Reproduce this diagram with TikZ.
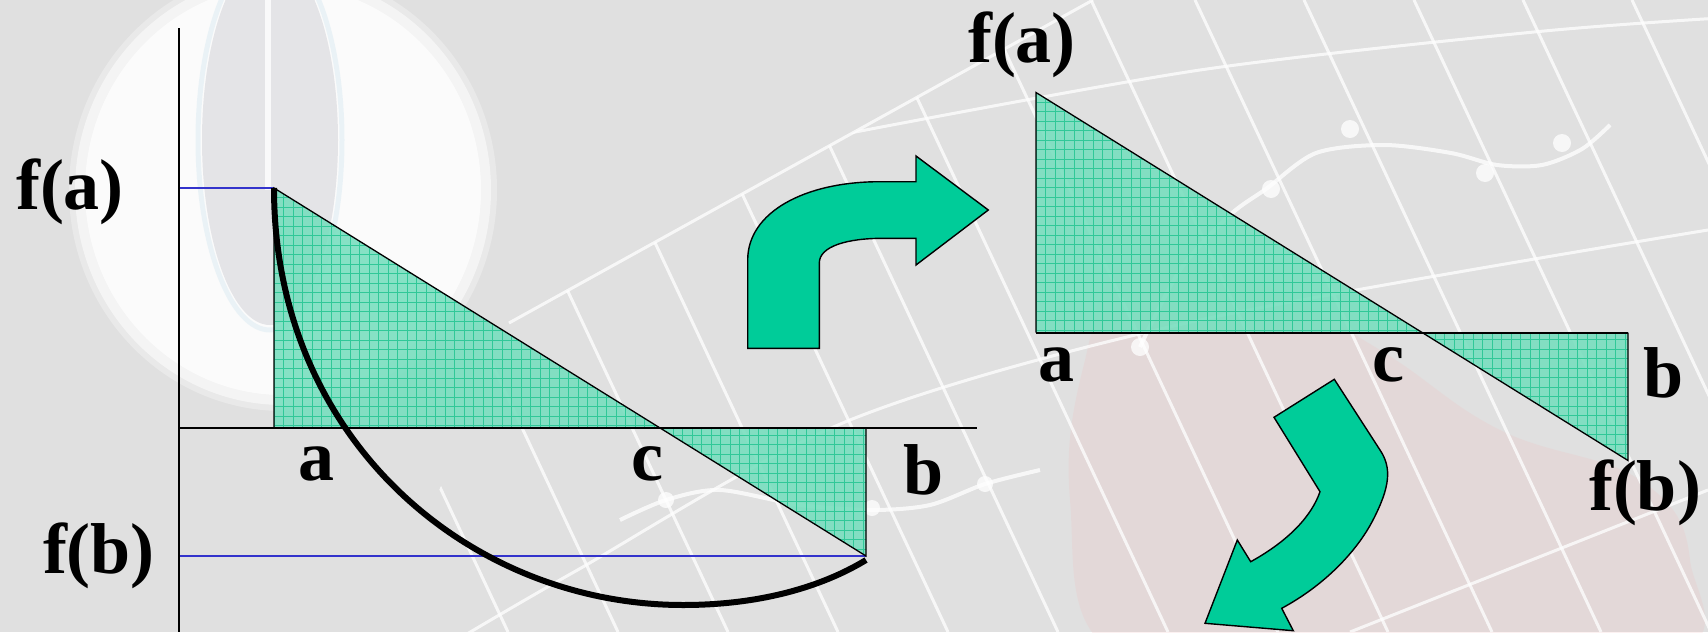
\documentclass[tikz,border=0pt]{standalone}
\usepackage{fontspec}
\setmainfont{Liberation Serif}
\definecolor{bggray}{RGB}{224,224,224}
\definecolor{tealfill}{RGB}{118,222,190}
\definecolor{tealgrid}{RGB}{48,200,152}
\definecolor{arrowgreen}{RGB}{0,204,153}
\definecolor{lineblue}{RGB}{51,51,204}
\definecolor{pinkwm}{RGB}{240,190,190}
\definecolor{bluewm}{RGB}{210,230,240}
\definecolor{innergray}{RGB}{224,224,228}
\begin{document}
\begin{tikzpicture}[x=1pt,y=-1pt,
  lbl/.style={font=\fontsize{72}{80}\selectfont\bfseries, inner sep=0pt, anchor=base},
  hline/.style={draw=lineblue, line width=2.4pt},
  axisline/.style={draw=black, line width=2pt},
  edgeline/.style={draw=black, line width=1.3pt, line join=miter},
  bigarrow/.style={fill=arrowgreen, draw=black, line width=1.4pt, line join=miter},
  wmline/.style={draw=white, line width=3pt, opacity=0.75},
  curveline/.style={draw=black, line width=6pt},
  gridln/.style={draw=tealgrid, line width=0.8pt}
]
\useasboundingbox (0,0) rectangle (1708,632);
\fill[bggray] (0,0) rectangle (1708,632);

% ---------- watermark background ----------
\begin{scope}
  \clip (0,0) rectangle (1708,632);
  % white blob with soft edge
  \fill[white, opacity=0.3] (283,190) ellipse [x radius=214pt, y radius=221pt];
  \fill[white, opacity=0.5] (283,190) ellipse [x radius=208pt, y radius=215pt];
  \fill[white, opacity=0.7] (283,190) ellipse [x radius=198pt, y radius=205pt];
  \fill[innergray, opacity=0.85] (270,140) ellipse [x radius=68pt, y radius=185pt];
  \draw[bluewm, line width=5pt, opacity=0.4] (270,140) ellipse [x radius=72pt, y radius=190pt];
  \draw[white, line width=6pt, opacity=0.8] (268,0) -- (268,190);
  % pink region (faint)
  \fill[pinkwm, opacity=0.22] plot[smooth cycle, tension=0.7] coordinates
    {(1130,260) (1250,280) (1380,350) (1500,430) (1640,480) (1690,560) (1660,660) (1300,660) (1110,650) (1070,500) (1085,360)};
  % grid lines
  \begin{scope}
    \clip (380,632) -- (509,323) -- (1093,0) -- (1708,0) -- (1708,632) -- cycle;
    \foreach \xx in {211,321,431,541,651,761,871,981,1091,1195,1304,1414,1523,1632}
      \draw[wmline] (\xx,0) -- (\xx+297,632);
    \draw[wmline] plot[smooth] coordinates {(440,650) (574,572) (850,420) (1200,320) (1708,230)};
    \draw[wmline] (1350,632) -- (1708,490);
    \draw[wmline] plot[smooth] coordinates {(850,133) (1200,70) (1534,32) (1720,18)};
  \end{scope}
  \draw[wmline] (509,323) -- (1093,0);
  % constellation curves
  \draw[wmline, line width=4pt] plot[smooth] coordinates
    {(1140,347) (1180,270) (1230,215) (1266,189) (1316,153) (1384,145) (1451,153) (1497,165) (1542,165) (1582,149) (1610,125)};
  \foreach \px/\py in {1350/129, 1485/173, 1562/143, 1271/189, 1140/347}
    \fill[white, opacity=0.75] (\px,\py) circle (9pt);
  \draw[wmline, line width=4pt] plot[smooth] coordinates
    {(620,520) (666,500) (720,490) (800,505) (872,510) (930,505) (985,484) (1040,470)};
  \foreach \px/\py in {666/500, 872/508, 985/484}
    \fill[white, opacity=0.75] (\px,\py) circle (8pt);
\end{scope}

% ---------- key points ----------
\coordinate (A1) at (274,188);
\coordinate (A1b) at (274,428);
\coordinate (C1) at (660,428);
\coordinate (B1) at (866,428);
\coordinate (B1b) at (866,556);
\coordinate (O1) at (179,428);
\coordinate (Ytop) at (179,28);
\coordinate (Ybot) at (179,632);
\coordinate (Xend) at (977,428);
\coordinate (YfA) at (179,188);
\coordinate (YfB) at (179,556);
\coordinate (Cbot) at (683,605);
\coordinate (Cend) at (866,560);

\coordinate (A2) at (1036,92.5);
\coordinate (A2b) at (1036,332.5);
\coordinate (C2) at (1422,332.5);
\coordinate (B2) at (1628,332.5);
\coordinate (B2b) at (1628,460.5);

% ---------- blue level lines ----------
\draw[hline] (YfA) -- (A1);
\draw[hline] (YfB) -- (B1b);

% ---------- left shaded triangles ----------
\begin{scope}
  \clip (A1) -- (A1b) -- (C1) -- cycle (C1) -- (B1) -- (B1b) -- cycle;
  \fill[tealfill, opacity=0.88] (268,180) rectangle (872,562);
  \foreach \i in {0,...,63} \draw[gridln] (274+9.5*\i,180) -- (274+9.5*\i,562);
  \foreach \j in {0,...,40} \draw[gridln] (268,188+9.5*\j) -- (872,188+9.5*\j);
\end{scope}
\draw[edgeline] (A1b) -- (A1) -- (B1b) -- (B1);

% ---------- right shaded triangles ----------
\begin{scope}
  \clip (A2) -- (A2b) -- (C2) -- cycle (C2) -- (B2) -- (B2b) -- cycle;
  \fill[tealfill, opacity=0.88] (1030,85) rectangle (1634,466);
  \foreach \i in {0,...,63} \draw[gridln] (1036+9.5*\i,85) -- (1036+9.5*\i,466);
  \foreach \j in {0,...,40} \draw[gridln] (1030,92.5+9.5*\j) -- (1634,92.5+9.5*\j);
\end{scope}
\draw[edgeline] (A2b) -- (A2) -- (B2b) -- (B2);
\draw[axisline] (A2b) -- (B2);

% ---------- axes ----------
\draw[axisline] (Ytop) -- (Ybot);
\draw[axisline, line width=2.6pt] (O1) -- (Xend);

% ---------- curve ----------
\draw[curveline] (A1) .. controls (274,440) and (470,605) .. (Cbot)
  .. controls (770,605) and (830,582) .. (Cend);

% ---------- curved arrows ----------
\filldraw[bigarrow] (747.7,348.3) -- (747.7,260) .. controls (747.7,212) and (805,181.7) .. (880,181.7)
  -- (916,181.7) -- (916,156) -- (988.3,210) -- (916,265) -- (916,238.3) -- (883,238.3)
  .. controls (848,238.3) and (819.3,246) .. (819.3,263) -- (819.3,348.3) -- cycle;

\filldraw[bigarrow] (1274,417.3) -- (1334.3,379.3) -- (1380,450)
  .. controls (1392,468) and (1390,487) .. (1373,520)
  .. controls (1357,551) and (1325,585) .. (1281.7,608.3)
  -- (1293.3,630.7) -- (1205,623.3) -- (1237.3,540) -- (1250.7,561.7)
  .. controls (1290,540) and (1312,515) .. (1320,491.7) -- cycle;

% ---------- labels ----------
\node[lbl] (fa1) at (70,209) {f(a)};
\node[lbl] (fb1) at (99,573) {f(b)};
\node[lbl] (a1) at (316,480) {a};
\node[lbl] (c1) at (647,480) {c};
\node[lbl] (b1) at (924,494) {b};
\node[lbl] (fa2) at (1022,62) {f(a)};
\node[lbl] (a2) at (1056,381) {a};
\node[lbl] (c2) at (1388,381) {c};
\node[lbl] (b2) at (1664,397) {b};
\node[lbl] (fb2) at (1645,510) {f(b)};
\end{tikzpicture}
\end{document}
